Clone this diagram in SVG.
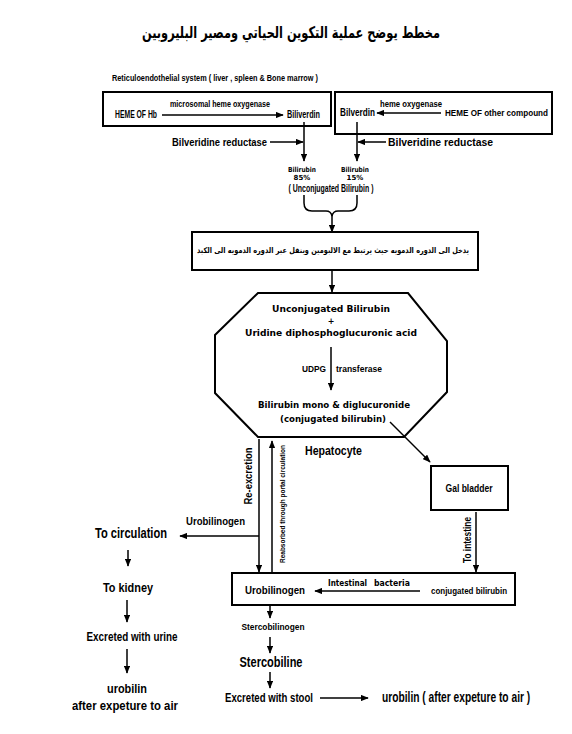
<svg xmlns="http://www.w3.org/2000/svg" width="572" height="734" viewBox="0 0 572 734">
<defs>
<style>
.n{font-family:"Liberation Sans",Arial,sans-serif;font-weight:bold;fill:#000}
.w{font-family:"DejaVu Sans","Liberation Sans",sans-serif;font-weight:bold;fill:#000}
.ar{font-family:"DejaVu Sans","Noto Sans",sans-serif;font-weight:bold;fill:#000}
.ln{stroke:#000;stroke-width:1.5;fill:none}
.box{fill:#fff;stroke:#000;stroke-width:2}
</style>
<marker id="a" viewBox="0 0 10 8" refX="9" refY="4" markerWidth="8" markerHeight="6.4" markerUnits="userSpaceOnUse" orient="auto"><path d="M0,0 L10,4 L0,8 z" fill="#000"/></marker>
</defs>
<rect width="572" height="734" fill="#fff"/>

<g id="title">
<text class="ar" x="291" y="38" font-size="16" text-anchor="middle" textLength="298" lengthAdjust="spacingAndGlyphs" direction="rtl">مخطط يوضح عملية التكوين الحياتي ومصير البليروبين</text>
<text class="n" x="112" y="81" font-size="8.5" textLength="206" lengthAdjust="spacingAndGlyphs">Reticuloendothelial system ( liver , spleen &amp; Bone marrow )</text>
</g>

<g id="left-box">
<rect class="box" x="103" y="92" width="228" height="34"/>
<text class="n" x="170" y="107" font-size="8.5" textLength="100" lengthAdjust="spacingAndGlyphs">microsomal heme oxygenase</text>
<text class="n" x="115" y="118" font-size="10" textLength="42" lengthAdjust="spacingAndGlyphs">HEME OF Hb</text>
<text class="n" x="287" y="118" font-size="10" textLength="33" lengthAdjust="spacingAndGlyphs">Biliverdin</text>
</g>

<g id="right-box">
<rect class="box" x="335" y="92" width="217" height="42"/>
<text class="n" x="340" y="116" font-size="10" textLength="35" lengthAdjust="spacingAndGlyphs">Bilverdin</text>
<text class="n" x="380" y="107" font-size="8.5" textLength="62" lengthAdjust="spacingAndGlyphs">heme oxygenase</text>
<text class="n" x="445" y="116" font-size="9" textLength="103" lengthAdjust="spacingAndGlyphs">HEME OF other compound</text>
</g>

<g id="reductase-labels">
<text class="n" x="172" y="146" font-size="10" textLength="95" lengthAdjust="spacingAndGlyphs">Bilveridine reductase</text>
<text class="n" x="388" y="146" font-size="10" textLength="105" lengthAdjust="spacingAndGlyphs">Bilveridine reductase</text>
</g>

<g id="bilirubin">
<text class="w" x="302" y="172" font-size="7" text-anchor="middle" textLength="28" lengthAdjust="spacingAndGlyphs">Bilirubin</text>
<text class="w" x="302" y="180" font-size="7" text-anchor="middle">85%</text>
<text class="w" x="355" y="172" font-size="7" text-anchor="middle" textLength="28" lengthAdjust="spacingAndGlyphs">Bilirubin</text>
<text class="w" x="355" y="180" font-size="7" text-anchor="middle">15%</text>
<text class="n" x="331" y="192" font-size="10" text-anchor="middle" textLength="85" lengthAdjust="spacingAndGlyphs">( Unconjugated Bilirubin )</text>
</g>

<g id="blood-box">
<rect class="box" x="192" y="232" width="286" height="38"/>
<text class="ar" x="333" y="253" font-size="8" text-anchor="middle" textLength="272" lengthAdjust="spacingAndGlyphs" direction="rtl">يدخل الى الدوره الدمويه حيث يرتبط مع الالبومين وينقل عبر الدوره الدمويه الى الكبد</text>
</g>

<g id="hepatocyte">
<polygon points="258,293 408,293 447,341 447,392 404,437 258,437 215,393 215,335" fill="#fff" stroke="#000" stroke-width="2"/>
<text class="w" x="331" y="312" font-size="8.5" text-anchor="middle" textLength="118" lengthAdjust="spacingAndGlyphs">Unconjugated Bilirubin</text>
<text class="w" x="331" y="324" font-size="8" text-anchor="middle">+</text>
<text class="w" x="331" y="336" font-size="8.5" text-anchor="middle" textLength="172" lengthAdjust="spacingAndGlyphs">Uridine diphosphoglucuronic acid</text>
<text class="n" x="302" y="372" font-size="8.5" textLength="24" lengthAdjust="spacingAndGlyphs">UDPG</text>
<text class="n" x="336" y="372" font-size="8.5" textLength="46" lengthAdjust="spacingAndGlyphs">transferase</text>
<text class="w" x="334" y="408" font-size="8.5" text-anchor="middle" textLength="152" lengthAdjust="spacingAndGlyphs">Bilirubin mono &amp; diglucuronide</text>
<text class="w" x="333" y="422" font-size="8.5" text-anchor="middle" textLength="106" lengthAdjust="spacingAndGlyphs">(conjugated bilirubin)</text>
<text class="n" x="305" y="455" font-size="13" textLength="57" lengthAdjust="spacingAndGlyphs">Hepatocyte</text>
</g>

<g id="gal-bladder">
<rect class="box" x="431" y="466" width="77" height="44"/>
<text class="n" x="469" y="492" font-size="11" text-anchor="middle" textLength="47" lengthAdjust="spacingAndGlyphs">Gal bladder</text>
</g>

<g id="intestine-box">
<rect class="box" x="232" y="573" width="283" height="32"/>
<text class="n" x="245" y="594" font-size="11" textLength="60" lengthAdjust="spacingAndGlyphs">Urobilinogen</text>
<text class="w" x="328" y="586" font-size="8" textLength="39" lengthAdjust="spacingAndGlyphs">Intestinal</text>
<text class="w" x="374" y="586" font-size="8" textLength="36" lengthAdjust="spacingAndGlyphs">bacteria</text>
<text class="n" x="431" y="594" font-size="9.5" textLength="76" lengthAdjust="spacingAndGlyphs">conjugated bilirubin</text>
</g>

<g id="left-column">
<text class="n" x="95" y="538" font-size="14" textLength="72" lengthAdjust="spacingAndGlyphs">To circulation</text>
<text class="n" x="186" y="525" font-size="10.5" textLength="59" lengthAdjust="spacingAndGlyphs">Urobilinogen</text>
<text class="n" x="128" y="592" font-size="12" text-anchor="middle" textLength="50" lengthAdjust="spacingAndGlyphs">To kidney</text>
<text class="n" x="132" y="641" font-size="12.5" text-anchor="middle" textLength="91" lengthAdjust="spacingAndGlyphs">Excreted with urine</text>
<text class="n" x="127" y="693" font-size="12.5" text-anchor="middle" textLength="40" lengthAdjust="spacingAndGlyphs">urobilin</text>
<text class="n" x="125" y="710" font-size="12.5" text-anchor="middle" textLength="106" lengthAdjust="spacingAndGlyphs">after expeture to air</text>
</g>

<g id="bottom-column">
<text class="n" x="273" y="630" font-size="9.5" text-anchor="middle" textLength="63" lengthAdjust="spacingAndGlyphs">Stercobilinogen</text>
<text class="n" x="271" y="667" font-size="14" text-anchor="middle" textLength="63" lengthAdjust="spacingAndGlyphs">Stercobiline</text>
<text class="n" x="225" y="702" font-size="12.5" textLength="88" lengthAdjust="spacingAndGlyphs">Excreted with stool</text>
<text class="n" transform="translate(382,702) scale(0.73,1)" font-size="14" textLength="203" lengthAdjust="spacingAndGlyphs">urobilin ( after expeture to air )</text>
</g>

<g id="vertical-labels">
<text class="n" transform="translate(252,476) rotate(-90)" font-size="11.5" text-anchor="middle" textLength="57" lengthAdjust="spacingAndGlyphs">Re-excretion</text>
<text class="n" transform="translate(285,504) rotate(-90)" font-size="8" font-weight="normal" text-anchor="middle" textLength="118" lengthAdjust="spacingAndGlyphs">Reabsorbed through portal circulation</text>
<text class="n" transform="translate(471,540) rotate(-90)" font-size="10" text-anchor="middle" textLength="46" lengthAdjust="spacingAndGlyphs">To intestine</text>
</g>

<g id="connectors">
<line class="ln" x1="162" y1="115" x2="283" y2="115" marker-end="url(#a)"/>
<line class="ln" x1="441" y1="113" x2="377" y2="113" marker-end="url(#a)"/>
<line class="ln" x1="304" y1="122" x2="304" y2="161" marker-end="url(#a)"/>
<line class="ln" x1="357" y1="122" x2="357" y2="161" marker-end="url(#a)"/>
<line class="ln" x1="270" y1="142" x2="303" y2="142" marker-end="url(#a)"/>
<line class="ln" x1="386" y1="142" x2="358" y2="142" marker-end="url(#a)"/>
<path class="ln" d="M304,195 L304,203 Q304,211 312,211 L326,211 Q331,211 332,216 Q333,211 338,211 L349,211 Q357,211 357,203 L357,195"/>
<line class="ln" x1="332" y1="215" x2="332" y2="232" marker-end="url(#a)"/>
<line class="ln" x1="332" y1="270" x2="332" y2="292" marker-end="url(#a)"/>
<line class="ln" x1="331" y1="347" x2="331" y2="390" marker-end="url(#a)"/>
<line class="ln" x1="390" y1="422" x2="430" y2="462" marker-end="url(#a)"/>
<line class="ln" x1="476" y1="512" x2="476" y2="572" marker-end="url(#a)"/>
<line class="ln" x1="420" y1="591" x2="315" y2="591" marker-end="url(#a)"/>
<line class="ln" x1="259" y1="439" x2="259" y2="572" marker-end="url(#a)"/>
<line class="ln" x1="272" y1="573" x2="272" y2="441" marker-end="url(#a)"/>
<line class="ln" x1="259" y1="536" x2="180" y2="536" marker-end="url(#a)"/>
<line class="ln" x1="128" y1="550" x2="128" y2="566" marker-end="url(#a)"/>
<line class="ln" x1="127" y1="600" x2="127" y2="622" marker-end="url(#a)"/>
<line class="ln" x1="127" y1="649" x2="127" y2="673" marker-end="url(#a)"/>
<line class="ln" x1="270" y1="605" x2="270" y2="618" marker-end="url(#a)"/>
<line class="ln" x1="270" y1="637" x2="270" y2="653" marker-end="url(#a)"/>
<line class="ln" x1="270" y1="672" x2="270" y2="688" marker-end="url(#a)"/>
<line class="ln" x1="320" y1="698" x2="368" y2="698" marker-end="url(#a)"/>
</g>
</svg>
